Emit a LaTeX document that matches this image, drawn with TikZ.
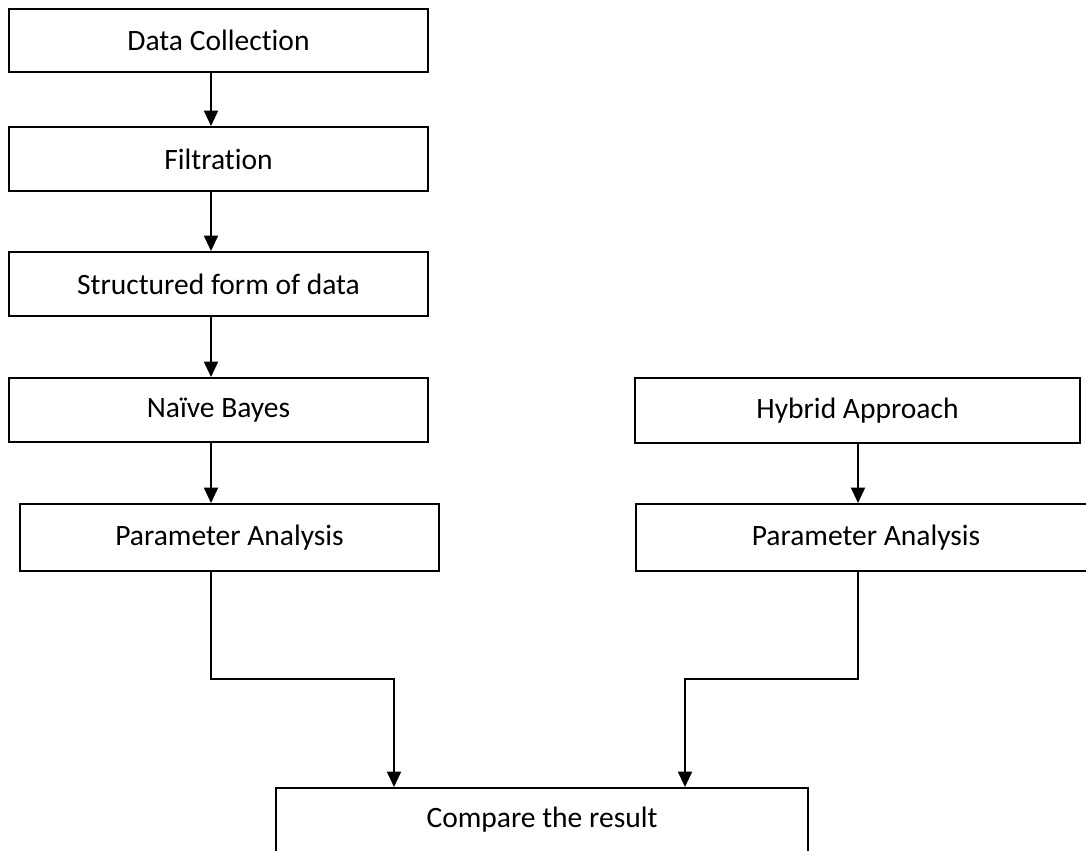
\documentclass[tikz,border=0pt]{standalone}
\usepackage{fontspec}
\setmainfont{Carlito}[RawFeature=-liga]
\usetikzlibrary{calc, arrows.meta, positioning}
\usepackage{xcolor}

\begin{document}
\begin{tikzpicture}[x=0.025cm, y=-0.025cm, >={Triangle[length=11pt, width=10pt]}, line width=1.4pt]
				\tikzstyle{box} = [draw=black, rectangle, line width=1.4pt, inner sep=0pt, font=\fontsize{21}{25}\selectfont]
				\tikzstyle{left} = [box, minimum width=10.475cm]
				
				\useasboundingbox (0,0) rectangle (1086,850);
				
				\node[left, minimum height=1.575cm]		at (218.5, 40.5)	(dc)	{Data Collection};
				\node[left, minimum height=1.6cm]		at (218.5, 159)		(fi)	{Filtration};
				\node[left, minimum height=1.6cm]		at (218.5, 284)		(sf)	{Structured form of data};
				\node[left, minimum height=1.6cm]		at (218.5, 410)		(nb)	{Naïve Bayes};
				\node[left, minimum height=1.675cm]		at (229.5, 537.5)	(pa1)	{Parameter Analysis};
				\node[box, minimum width=11.125cm, minimum height=1.625cm]	at (857.5, 410.5)	(ha)	{Hybrid Approach};
				\node[box, minimum width=11.5cm, minimum height=1.675cm]	at (866, 537.5)		(pa2)	{Parameter Analysis};
				\node[box, minimum width=13.3cm, minimum height=1.6cm]		at (542, 820)		(cr)	{Compare the result};
				
				\coordinate (col) at (211, 0);
				\coordinate (col2) at (858, 0);
				\coordinate (j1) at (394, 679);
				\coordinate (j2) at (685, 679);
				
				\path[->]
				(dc.south -| col)	edge	(fi.north -| col)
				(fi.south -| col)	edge	(sf.north -| col)
				(sf.south -| col)	edge	(nb.north -| col)
				(nb.south -| col)	edge	(pa1.north -| col)
				(ha.south -| col2)	edge	(pa2.north -| col2);
				
				\draw[->] (pa1.south -| col) |- (j1) -- (j1 |- cr.north);
				\draw[->] (pa2.south -| col2) |- (j2) -- (j2 |- cr.north);
			\end{tikzpicture}
\end{document}
